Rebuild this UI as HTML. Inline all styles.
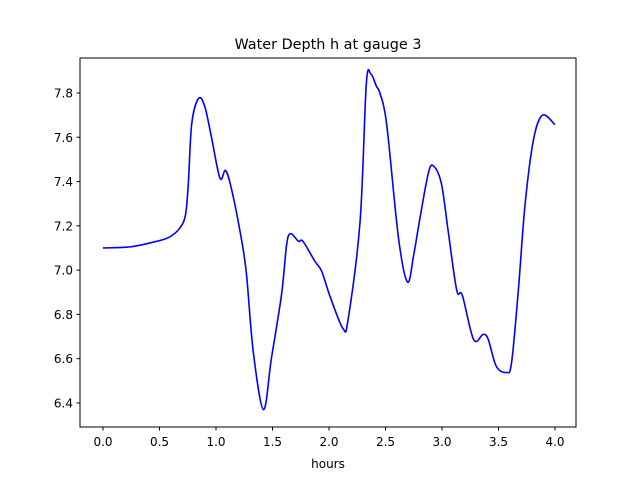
<!DOCTYPE html>
<html><head><meta charset="utf-8"><style>
body{margin:0;background:#fff}
svg text{font-family:"DejaVu Sans","Liberation Sans",sans-serif;fill:#000}
</style></head><body>
<svg id="chart" width="640" height="480" xmlns="http://www.w3.org/2000/svg">
<rect width="640" height="480" fill="#fff"/>
<text x="328" y="49" font-size="14.4" text-anchor="middle">Water Depth h at gauge 3</text>
<text x="328" y="468" font-size="12" text-anchor="middle">hours</text>
<g id="ticks"></g>
<path id="line" fill="none" stroke="#0000ff" stroke-width="1.6"/>
<rect x="80" y="58" width="496" height="369" fill="none" stroke="#000" stroke-width="1"/>
</svg>
<script>
const xTicks=[0,0.5,1.0,1.5,2.0,2.5,3.0,3.5,4.0];
const xTickLabels=["0.0","0.5","1.0","1.5","2.0","2.5","3.0","3.5","4.0"];
const yTicks=[6.4,6.6,6.8,7.0,7.2,7.4,7.6,7.8];
const yTickLabels=["6.4","6.6","6.8","7.0","7.2","7.4","7.6","7.8"];
const hours=[0,0.24,0.475,0.59,0.68,0.73,0.755,0.785,0.845,0.9,0.96,1.035,1.085,1.14,1.225,1.27,1.33,1.42,1.49,1.58,1.625,1.66,1.73,1.77,1.875,1.935,2.01,2.125,2.17,2.275,2.33,2.37,2.42,2.45,2.51,2.615,2.695,2.75,2.805,2.88,2.925,2.995,3.055,3.13,3.18,3.28,3.365,3.41,3.48,3.57,3.615,3.675,3.735,3.81,3.89,4.0];
const depth=[7.10,7.105,7.13,7.15,7.19,7.25,7.39,7.66,7.775,7.74,7.60,7.415,7.45,7.36,7.14,6.98,6.63,6.37,6.60,6.89,7.115,7.165,7.13,7.13,7.04,6.995,6.88,6.735,6.78,7.22,7.84,7.886,7.83,7.80,7.66,7.145,6.946,7.07,7.235,7.44,7.47,7.39,7.175,6.91,6.886,6.686,6.71,6.686,6.566,6.538,6.58,6.905,7.296,7.59,7.70,7.657];
const X=v=>103+v*113;
const Y=v=>93+(7.8-v)*221.4;
const NS="http://www.w3.org/2000/svg";
const g=document.getElementById('ticks');
xTicks.forEach((t,i)=>{
  const l=document.createElementNS(NS,'line');
  l.setAttribute('x1',X(t));l.setAttribute('x2',X(t));l.setAttribute('y1',427);l.setAttribute('y2',430.5);l.setAttribute('stroke','#000');
  
  
  g.appendChild(l);
  const tx=document.createElementNS(NS,'text');
  tx.setAttribute('x',X(t));tx.setAttribute('y',446);tx.setAttribute('font-size','12');tx.setAttribute('text-anchor','middle');
  tx.textContent=xTickLabels[i];
  
  
  g.appendChild(tx);
});
yTicks.forEach((t,i)=>{
  const l=document.createElementNS(NS,'line');
  l.setAttribute('x1',76.5);l.setAttribute('x2',80);l.setAttribute('y1',Y(t));l.setAttribute('y2',Y(t));l.setAttribute('stroke','#000');
  
  
  g.appendChild(l);
  const tx=document.createElementNS(NS,'text');
  tx.setAttribute('x',73);tx.setAttribute('y',Y(t)+4.5);tx.setAttribute('font-size','12');tx.setAttribute('text-anchor','end');
  tx.textContent=yTickLabels[i];
  
  
  g.appendChild(tx);
});
const P=hours.map((h,i)=>[X(h),Y(depth[i])]);
let d='M'+P[0][0]+','+P[0][1];
for(let i=0;i<P.length-1;i++){
  const p0=P[Math.max(0,i-1)],p1=P[i],p2=P[i+1],p3=P[Math.min(P.length-1,i+2)];
  const c1=[p1[0]+(p2[0]-p0[0])/6,p1[1]+(p2[1]-p0[1])/6];
  const c2=[p2[0]-(p3[0]-p1[0])/6,p2[1]-(p3[1]-p1[1])/6];
  d+=' C'+c1[0]+','+c1[1]+' '+c2[0]+','+c2[1]+' '+p2[0]+','+p2[1];
}
document.getElementById('line').setAttribute('d',d);
</script>
</body></html>
